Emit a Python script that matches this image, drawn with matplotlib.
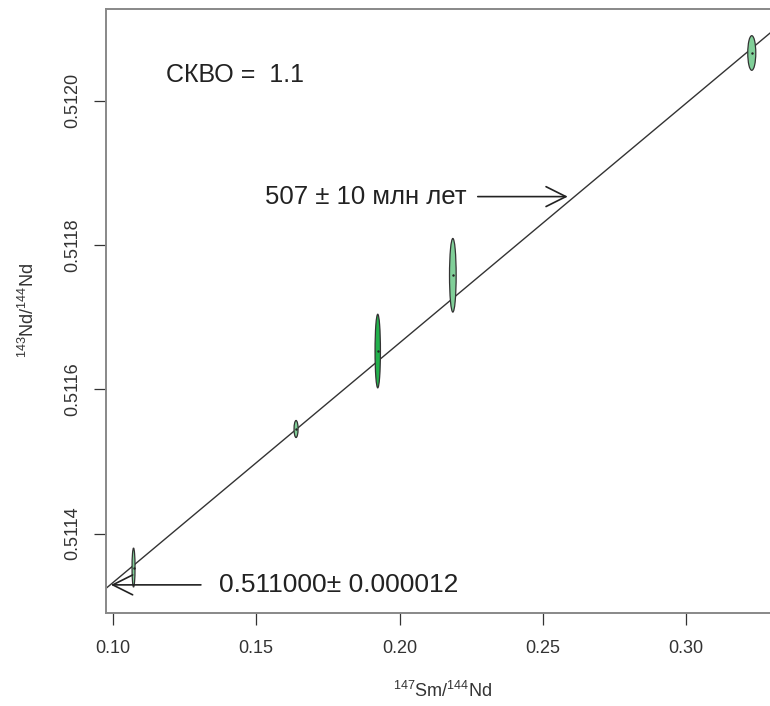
import numpy as np
import matplotlib
matplotlib.use("Agg")
import matplotlib.pyplot as plt
from matplotlib.patches import Ellipse

plt.rcParams["font.family"] = ["Liberation Sans", "DejaVu Sans"]
plt.rcParams["mathtext.fontset"] = "custom"
plt.rcParams["mathtext.rm"] = "Liberation Sans"
plt.rcParams["mathtext.it"] = "Liberation Sans:italic"

# Sample data: 147Sm/144Nd, 143Nd/144Nd and ellipse half-axes
sm_nd = [0.1072, 0.1639, 0.1924, 0.2186, 0.3229]
nd_nd = [0.511353, 0.511545, 0.511653, 0.511758, 0.512066]
err_x = [0.00052, 0.00070, 0.00094, 0.00116, 0.00140]
err_y = [0.000027, 0.0000118, 0.000051, 0.000051, 0.000024]
fill_colors = ["#80cf98", "#80cf98", "#22b14c", "#80cf98", "#80cf98"]

# Isochron
age_ma = 507
age_err = 10
intercept = 0.511000
intercept_err = 0.000012
mswd = 1.1
lam = 6.54e-12
slope = np.exp(lam * age_ma * 1e6) - 1

xticks = [0.10, 0.15, 0.20, 0.25, 0.30]
yticks = [0.5114, 0.5116, 0.5118, 0.5120]

fig = plt.figure(figsize=[7.7, 7.06], dpi=100, facecolor="white")
ax = fig.add_axes([0.1377, 0.1317, 0.8725, 0.8556])
ax.set_xlim(0.0976, 0.332)
ax.set_ylim(0.51129, 0.512127)

# Isochron line
xl = np.array(ax.get_xlim())
ax.plot(xl, intercept + slope * xl, color="#333333", lw=1.0, zorder=2)

# Error ellipses
for x, y, ex, ey, c in zip(sm_nd, nd_nd, err_x, err_y, fill_colors):
    e = Ellipse((x, y), 2 * ex, 2 * ey, facecolor=c, edgecolor="#333333",
                lw=0.9, zorder=3)
    ax.add_patch(e)
    ax.plot(x, y, marker=".", ms=1.5, color="#222222", zorder=4)

# Annotations
txt_col = "#222222"
arrow = dict(arrowstyle="->,head_length=1.1,head_width=0.55",
             color="#222222", lw=1.2, mutation_scale=13, shrinkA=0, shrinkB=0)
ax.text(0.1185, 0.512036, f"СКВО =  {mswd}", fontsize=18, color=txt_col,
        va="center", ha="left")
ax.text(0.1530, 0.511867, f"{age_ma} ± {age_err} млн лет", fontsize=18.5,
        color=txt_col, va="center", ha="left")
ax.annotate("", xy=(0.2587, 0.511867), xytext=(0.2273, 0.511867),
            arrowprops=arrow)
ax.text(0.1370, 0.511329, f"{intercept:.6f}± {intercept_err:.6f}", fontsize=19,
        color=txt_col, va="center", ha="left")
ax.annotate("", xy=(0.0993, 0.511329), xytext=(0.1307, 0.511329),
            arrowprops=arrow)

# Axes styling
ax.set_xticks(xticks)
ax.set_xticklabels([f"{v:.2f}" for v in xticks])
ax.set_yticks(yticks)
ax.set_yticklabels([f"{v:.4f}" for v in yticks], rotation=90, va="center")
ax.tick_params(axis="both", direction="out", length=8.5, width=0.9,
               color="#333333", labelsize=13, labelcolor="#333333")
ax.tick_params(axis="x", pad=11)
ax.tick_params(axis="y", pad=9)
for sp in ax.spines.values():
    sp.set_color("#888888")
    sp.set_linewidth(1.4)

fig.text(0.575, 0.022, r"$^{147}$Sm/$^{144}$Nd", fontsize=13, color="#333333",
         ha="center", va="center")
fig.text(0.036, 0.56, r"$^{143}$Nd/$^{144}$Nd", fontsize=13, color="#333333",
         ha="center", va="center", rotation=90)

fig.savefig("out.png", dpi=100, facecolor="white")
